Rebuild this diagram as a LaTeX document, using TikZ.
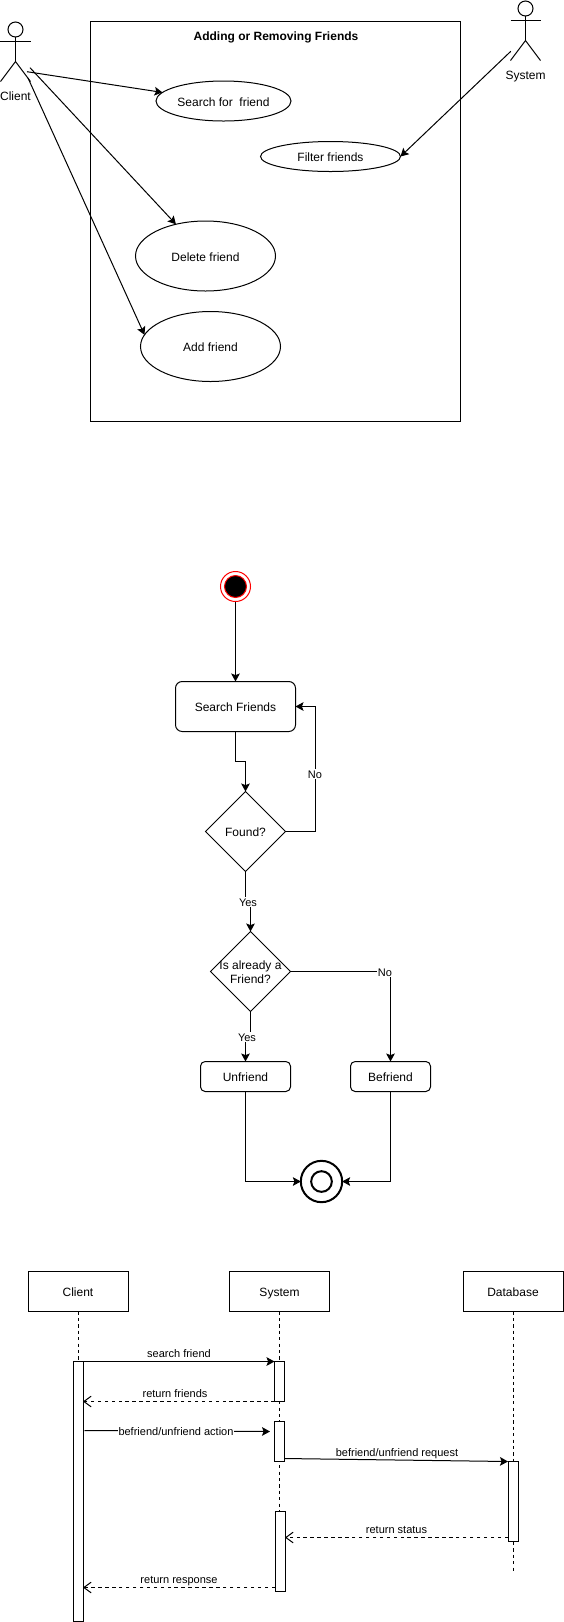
\documentclass[tikz,border=0pt]{standalone}
\usepackage{fontspec}
\setmainfont{Liberation Sans}
\usetikzlibrary{shapes,arrows.meta}

\tikzset{
    every node/.style={font=\fontsize{9pt}{10.5pt}\selectfont, outer sep=0pt, inner sep=0pt, align=center, text height=8pt, text depth=0pt},
    line/.style={line width=0.75pt, -{Stealth[length=6pt, width=6.5pt, inset=1.2pt]}},
    back/.style={line width=0.75pt, dash pattern=on 2.6pt off 2.6pt, -{Straight Barb[length=5.5pt, width=8pt]}},
    usecase/.style={draw, ellipse, line width=0.75pt},
    round/.style={draw, rounded corners=#1, line width=0.75pt},
    decision/.style={draw, diamond, line width=0.75pt, minimum width=60pt, minimum height=60pt},
    tag/.style={font=\fontsize{8.25pt}{9pt}\selectfont, fill=white, inner sep=0.5pt, text height=6.5pt, text depth=0pt},
    head/.style={draw, circle, minimum size=11.25pt, line width=0.75pt},
    party/.style={draw, line width=0.75pt, minimum width=75pt, minimum height=30pt},
    bar/.style={draw, fill=white, line width=0.75pt, minimum width=7.5pt},
    life/.style={line width=0.75pt, dash pattern=on 2.4pt off 2.4pt}
}

\begin{document}
\begin{tikzpicture}[x=0.75pt, y=-0.75pt]
    \useasboundingbox (0,0) rectangle (564,1622);

    % Use cases
    \node[draw, line width=0.75pt, minimum width=277.5pt, minimum height=300pt] (usebox) at (275.5,221.5) {};
    \node[font=\fontsize{9pt}{10.5pt}\selectfont\bfseries] (usetitle) at (276,35.5) {Adding or Removing Friends};
    \node[usecase, minimum width=101.25pt, minimum height=30pt] (search) at (223.5,101) {Search for\ \ friend};
    \node[usecase, minimum width=105pt, minimum height=22.5pt] (filter) at (330.5,156.5) {Filter friends};
    \node[usecase, minimum width=105pt, minimum height=52.5pt] (delete) at (205.5,256) {Delete friend};
    \node[usecase, minimum width=105pt, minimum height=52.5pt] (add) at (210.5,346.5) {Add friend};

    \foreach \name/\x/\y/\lab in {client/15.5/29.5/Client, system/525.5/8.5/System} {
        \node[head] (\name head) at (\x,\y) {};
        \node (\name label) at (\x,\y+66) {\lab};
        \draw[line width=0.75pt] (\name head.south) -- (\x,\y+32) coordinate (\name hip);
        \draw[line width=0.75pt] (\x-15,\y+12) -- (\x+15,\y+12);
        \draw[line width=0.75pt] (\x-15,\y+52) -- (\name hip) -- (\x+15,\y+52);
    }

    \coordinate (portsearch) at (27,71.7);
    \coordinate (portdelete) at (30,67.7);
    \coordinate (portadd) at (28,78);
    \coordinate (portfilter) at (510.8,51.3);

    \draw[line] (portsearch) -- (search.172);
    \draw[line] (portdelete) -- (delete.133);
    \draw[line] (portadd) -- (add.170);
    \draw[line] (portfilter) -- (filter.east);

    % Activity
    \node[draw=red, fill=black, circle, line width=0.75pt, minimum size=16.5pt] (start) at (235.5,586.5) {};
    \node[draw=red, circle, line width=0.75pt, minimum size=22.5pt] (startring) at (start) {};
    \node[round=5pt, minimum width=90pt, minimum height=37.5pt] (friends) at (235.5,706.5) {Search Friends};
    \node[decision] (found) at (245.5,831.5) {Found?};
    \node[decision] (already) at (250.5,971.5) {};
    \node[text height=, text depth=] (alreadytext) at (250.5,972.5) {Is already a\\Friend?};
    \node[round=3.5pt, minimum width=67.5pt, minimum height=22.5pt] (unfriend) at (245.5,1076.5) {Unfriend};
    \node[round=3.5pt, minimum width=60pt, minimum height=22.5pt] (befriend) at (390.5,1076.5) {Befriend};
    \node[draw, circle, line width=1.5pt, minimum size=31pt] (end) at (321.5,1181.5) {};
    \node[draw, circle, line width=1.5pt, minimum size=15.5pt] (endring) at (end) {};

    \draw[line] (startring) -- (friends);
    \draw[line] (friends.south) -- (235.5,761.5) -- (245.5,761.5) -- (found.north);
    \draw[line] (found.east) -- (315.5,831.5) -- (315.5,706.5) -- (friends.east);
    \node[tag] (tagno) at (315,774) {No};
    \draw[line] (found.south) -- (245.5,901.5) -- (250.5,901.5) -- (already.north);
    \node[tag] (tagyes) at (248,902) {Yes};
    \draw[line] (already.east) -- (390.5,971.5) -- (befriend.north);
    \node[tag] (tagnotwo) at (385,972) {No};
    \draw[line] (already.south) -- (250.5,1036.5) -- (245.5,1036.5) -- (unfriend.north);
    \node[tag] (tagyestwo) at (247,1037) {Yes};
    \draw[line] (unfriend.south) |- (end.west);
    \draw[line] (befriend.south) |- (end.east);

    % Sequence
    \node[party] (cliparty) at (78,1291.5) {Client};
    \node[party] (sysparty) at (279.5,1291.5) {System};
    \node[party] (dbparty) at (513,1291.5) {Database};

    \draw[life] (cliparty.south) -- ++(0,60);
    \draw[life] (sysparty.south) -- ++(0,210);
    \draw[life] (dbparty.south) -- ++(0,260) coordinate (dbend);

    \node[bar, minimum height=195pt] (clibar) at (78,1491.5) {};
    \node[bar, minimum height=30pt] (sysa) at (279.5,1381.5) {};
    \node[bar, minimum height=30pt] (sysb) at (279.5,1441.5) {};
    \node[bar, minimum height=60pt] (sysc) at (280,1551.5) {};
    \node[bar, minimum height=60pt] (dbbar) at (513,1501.5) {};

    \draw[line] (clibar.north east) -- (sysa.north west);
    \node[tag, fill=none] (msgsearch) at (179,1353) {search friend};
    \draw[line] ([yshift=2.25pt]sysb.south east) -- (dbbar.north west);
    \node[tag, fill=none] (msgrequest) at (397,1452) {befriend/unfriend request};

    \coordinate (actfrom) at (84.5,1430.5);
    \coordinate (actto) at (270,1431.5);
    \draw[line] (actfrom) -- (actto);
    \node[tag] (msgaction) at (176,1431) {befriend/unfriend action};

    \draw[back] (sysa.south west) -- (sysa.south west -| clibar.east);
    \node[tag, fill=none] (msgfriends) at (175,1393) {return friends};
    \draw[back] (dbbar.west |- 0,1537.5) -- (sysc.east |- 0,1537.5);
    \node[tag, fill=none] (msgstatus) at (396.5,1529) {return status};
    \draw[back] (sysc.west |- 0,1587.5) -- (clibar.east |- 0,1587.5);
    \node[tag, fill=none] (msgresponse) at (179,1579) {return response};
\end{tikzpicture}
\end{document}
